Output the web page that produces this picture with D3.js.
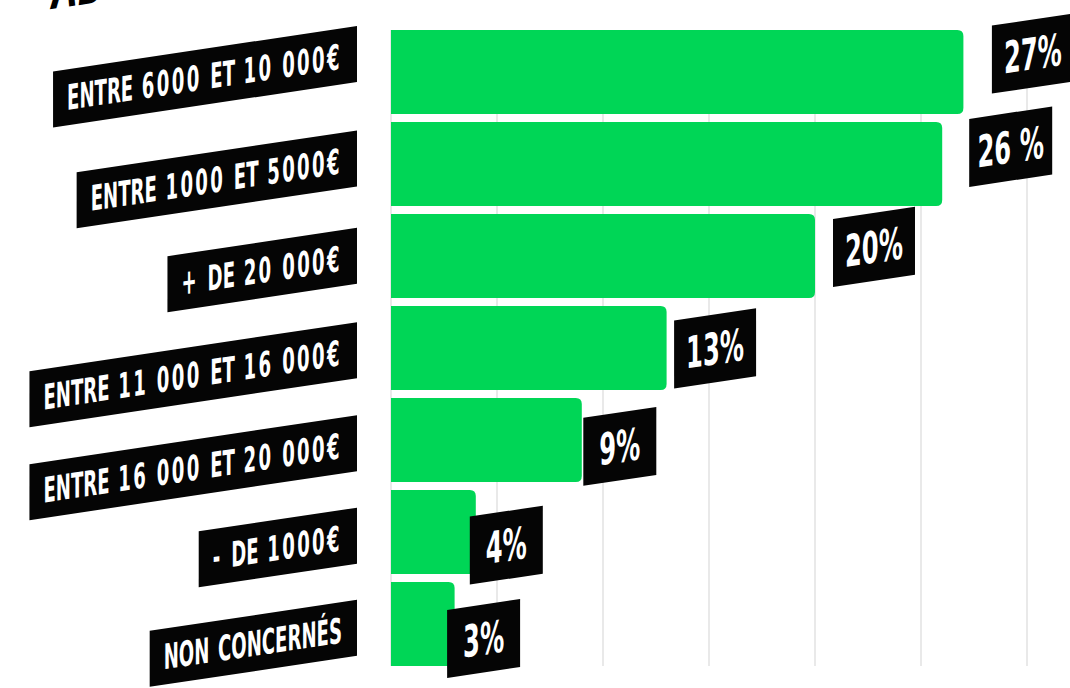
<!DOCTYPE html>
<html>
<head>
<meta charset="utf-8">
<script src="https://cdn.jsdelivr.net/npm/d3@7"></script>
<style>
  html, body { margin: 0; padding: 0; background: #ffffff; overflow: hidden; }
  svg { display: block; }
  text { font-family: "DejaVu Sans Condensed", "DejaVu Sans", sans-serif; font-weight: bold; }
</style>
</head>
<body>
<svg id="chart" width="1070" height="688"></svg>
<script>
// ---- data ----
const categories = [
  "ENTRE 6000 ET 10 000€",
  "ENTRE 1000 ET 5000€",
  "+ DE 20 000€",
  "ENTRE 11 000 ET 16 000€",
  "ENTRE 16 000 ET 20 000€",
  "- DE 1000€",
  "NON CONCERNÉS"
];
const values = [27, 26, 20, 13, 9, 4, 3];
const valueLabels = ["27%", "26 %", "20%", "13%", "9%", "4%", "3%"];
const gridTicks = [0, 5, 10, 15, 20, 25, 30];
const titleText = "AB";

// ---- layout ----
const svg = d3.select("#chart");
const green = "#00d656";
const SKEW = -8.5;

const x = d3.scaleLinear().domain([0, 30]).range([391, 1027]);
const y = d3.scaleBand().domain(categories).range([26, 670])
  .paddingInner(8 / 92).paddingOuter(4 / 92);

const CAT_SIZE = 35, VAL_SIZE = 44;
const isLetter = ch => /[A-Za-zÀ-ÿ]/.test(ch);

// split text into letter / non-letter runs as tspans (non-letters get extra spacing)
function fillRuns(textSel, str, ls) {
  textSel.selectAll("tspan").remove();
  let runs = [];
  for (const ch of str) {
    const k = isLetter(ch);
    if (runs.length && runs[runs.length - 1].k === k) runs[runs.length - 1].s += ch;
    else runs.push({ k, s: ch });
  }
  runs.forEach(r => {
    textSel.append("tspan")
      .style("letter-spacing", r.k ? "0px" : ls + "px")
      .text(r.s);
  });
}
function measureRuns(str, size, ls) {
  const t = svg.append("text").attr("font-size", size);
  fillRuns(t, str, ls);
  const w = t.node().getComputedTextLength();
  t.remove();
  return w;
}
// calibrate: letters from "NON CONCERNÉS", digits from the first label
const SX_CAT = 176 / measureRuns("NON CONCERNÉS", CAT_SIZE, 0);
const base1 = measureRuns(categories[0], CAT_SIZE, 0);
const nonLetters1 = [...categories[0]].filter(ch => !isLetter(ch)).length;
const LS_CAT = Math.max(0, (275 / SX_CAT - base1) / nonLetters1);
const SX_VAL = 58 / measureRuns("20%", VAL_SIZE, 0);

// title (cut off at the top)
svg.append("g")
  .attr("transform", `translate(52,9) skewY(${SKEW})`)
  .append("text")
  .attr("transform", `scale(0.62,1)`)
  .attr("font-size", 60)
  .attr("font-style", "italic")
  .attr("fill", "#000")
  .text(titleText);

// gridlines
svg.append("g").selectAll("line")
  .data(gridTicks).join("line")
  .attr("x1", d => x(d)).attr("x2", d => x(d))
  .attr("y1", y.range()[0] + 4).attr("y2", y.range()[1] - 4)
  .attr("stroke", "#d3d3d3").attr("stroke-width", 1);

// bars with rounded right corners
const r = 6;
function barPath(x0, x1, y0, h) {
  const rr = Math.min(r, (x1 - x0) / 2);
  return `M${x0},${y0} H${x1 - rr} Q${x1},${y0} ${x1},${y0 + rr} V${y0 + h - rr} Q${x1},${y0 + h} ${x1 - rr},${y0 + h} H${x0} Z`;
}
svg.append("g").selectAll("path")
  .data(values).join("path")
  .attr("d", (d, i) => barPath(x(0), x(d), y(categories[i]), y.bandwidth()))
  .attr("fill", green);

// category labels (skewed black boxes, right-aligned at x=357)
const catG = svg.append("g");
categories.forEach((c, i) => {
  const yc = y(c) + y.bandwidth() / 2;
  const dy = -18 + 22 * (1 - Math.exp(-i / 1.2));
  const g = catG.append("g")
    .attr("transform", `translate(357,${yc + dy}) skewY(${SKEW})`);
  const rect = g.append("rect").attr("fill", "#050505");
  const t = g.append("text")
    .attr("text-anchor", "start")
    .attr("dy", "0.36em")
    .attr("font-size", CAT_SIZE)
    .attr("fill", "#fff");
  fillRuns(t, c, LS_CAT);
  const tw = t.node().getComputedTextLength() * SX_CAT;
  t.attr("transform", `translate(${-15 - tw},0) scale(${SX_CAT},1)`);
  const bh = 56;
  rect.attr("x", -(tw + 29)).attr("y", -bh / 2).attr("width", tw + 29).attr("height", bh);
});

// value labels
const valG = svg.append("g");
values.forEach((v, i) => {
  const yc = y(categories[i]) + y.bandwidth() / 2;
  const left = x(v) - 12 + 1.5 * v;
  const midY = yc + 24 - 1.35 * v;
  const g = valG.append("g")
    .attr("transform", `translate(${left},${midY}) skewY(${SKEW})`);
  const rect = g.append("rect").attr("fill", "#050505");
  const t = g.append("text")
    .attr("text-anchor", "middle")
    .attr("dy", "0.36em")
    .attr("font-size", VAL_SIZE)
    .attr("fill", "#fff")
    .text(valueLabels[i]);
  const tw = t.node().getComputedTextLength() * SX_VAL;
  const bw = Math.min(83, Math.max(73, tw + 24));
  const bh = 68;
  rect.attr("x", 0).attr("y", -bh / 2).attr("width", bw).attr("height", bh);
  t.attr("transform", `translate(${bw / 2},0) scale(${SX_VAL},1)`);
});
</script>
</body>
</html>
